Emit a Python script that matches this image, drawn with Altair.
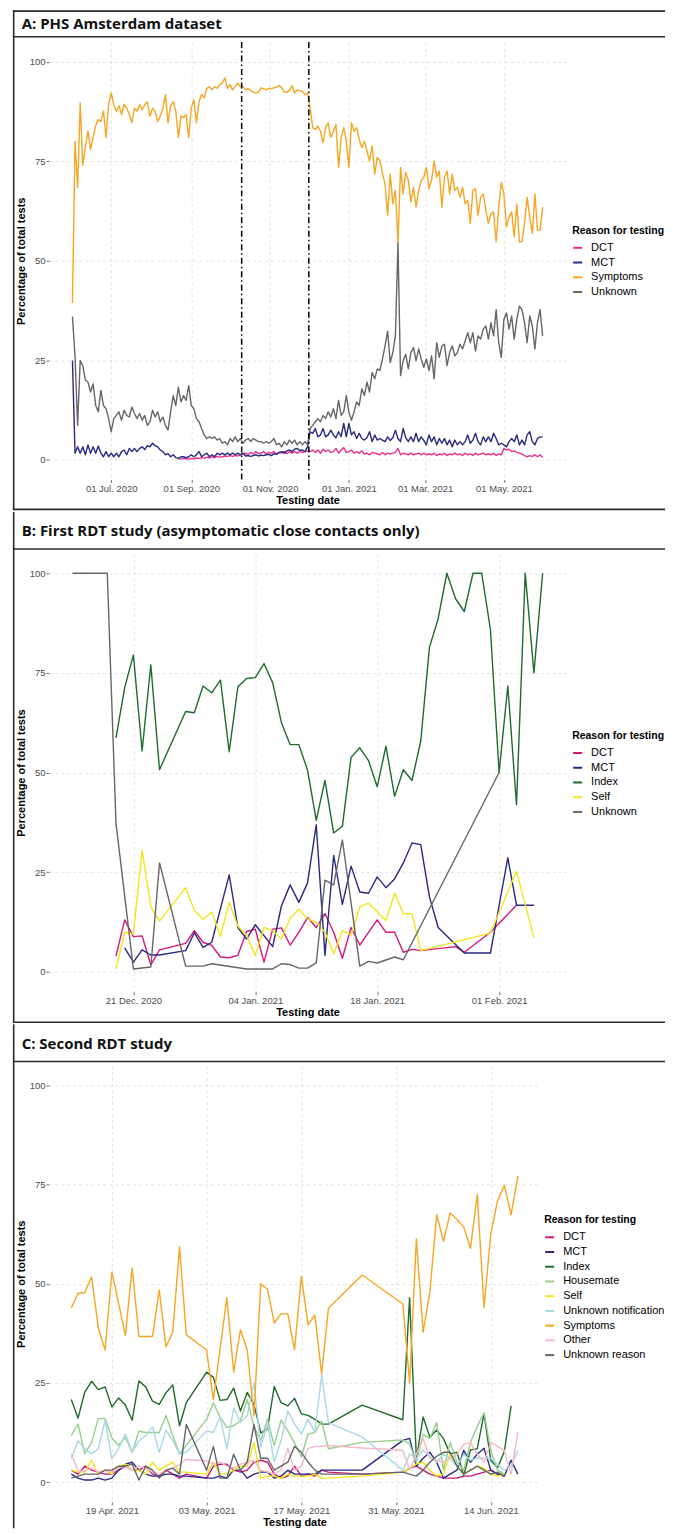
import altair as alt
import pandas as pd

FONT = "Liberation Sans"
HEAD_FONT = "Open Sans"
FRAME = "#2b2b2b"

# ---------------- Panel A: PHS Amsterdam (every 2nd day from 2020-06-01) ----------------
A_START = "2020-06-01"
A_STEP = 2
a_symptoms = [
    39.4, 80, 68.5, 89.7, 74, 78.5, 82.6, 78, 81, 84,
    85.5, 85, 87.6, 81, 89.3, 92.2, 89.3, 87.6, 89, 86.8,
    89.3, 88.4, 86.8, 84.7, 88.4, 87.6, 89.3, 88, 89.3, 90,
    86.4, 88.4, 87.6, 85, 86.4, 88.4, 91.8, 84.7, 89, 90,
    87.6, 81, 86.4, 86, 86.8, 81, 88.4, 90.5, 84.7, 90,
    91.8, 91, 93.4, 93.8, 93, 93.8, 93.4, 94.3, 94.7, 96,
    93.4, 94.3, 93, 93.8, 94.7, 93.8, 93.8, 93, 93.3, 92.8,
    92.4, 92.2, 92.4, 93.5, 93.3, 93, 93.4, 93.3, 93.5, 93.7,
    94.1, 93.5, 92.5, 92.4, 92.8, 94.1, 92.2, 93, 92.8, 92.6,
    91.8, 92.2, 88.4, 83.5, 83, 83.9, 82.6, 79.7, 83.5, 84.7,
    81, 82.6, 84.3, 73.5, 81, 83.5, 80, 73.5, 84.7, 82.6,
    83.5, 80.5, 78.5, 80.1, 77.6, 75.1, 78.9, 71.8, 76, 75.1,
    72, 69.3, 61.4, 71.8, 64.3, 67.7, 54.5, 73.5, 66.8, 72.2,
    70.2, 64.8, 68.5, 63.5, 67.7, 70.2, 71, 73.5, 68.1, 70.2,
    75.1, 71, 72.6, 63.5, 71, 72.6, 66.8, 71.8, 67.7, 68.5,
    66, 68.5, 64.3, 65.2, 59.4, 67.7, 68.1, 61.4, 66, 66.8,
    62.7, 59.4, 61.8, 62.3, 54.8, 63.5, 69.7, 66.8, 58.5, 61,
    62.3, 56, 64.3, 54.8, 54.8, 59.4, 66, 61, 56.9, 66.8,
    57.7, 57.7, 63.5,
]
a_unknown = [
    36, 26, 8.6, 24.9, 23.6, 20, 19.5, 17, 19, 13.6,
    12, 17.4, 13.6, 12.8, 10.3, 7, 10.3, 11.1, 12, 9.9,
    12.4, 11.1, 10.7, 13.2, 11.6, 10.3, 11.6, 9.9, 11.1, 8.6,
    9.5, 12.4, 10.7, 12, 9.5, 10.7, 8.6, 7.4, 12, 16.1,
    13.6, 18.2, 14.5, 16.1, 14.9, 18.6, 13.6, 12.8, 10.3, 9.5,
    7.8, 6.2, 5.3, 5.7, 5.3, 5.7, 4.9, 5.3, 4.1, 4.5,
    3.7, 5.3, 4.5, 5.7, 4.5, 5.3, 4.1, 4.9, 5.3, 4.5,
    5.3, 4.9, 4.5, 4.5, 4.1, 4.5, 4.1, 4.5, 5.3, 3.7,
    4.1, 3.2, 4.5, 3.7, 4.9, 4.1, 4.9, 3.7, 4.5, 3.7,
    4.5, 3.7, 7.8, 8.6, 9.5, 10.3, 9.5, 11.1, 10.3, 12,
    10.7, 12.8, 10.3, 14.9, 11.1, 12, 16.1, 12, 9.9, 12,
    14.5, 13.6, 17.8, 16.1, 19.5, 17, 21.9, 20.3, 22.8, 22.4,
    25.3, 28.6, 32.3, 24.4, 26.9, 31.1, 54.5, 21.1, 24.9, 26.5,
    22.8, 26.9, 28.2, 24.9, 27.8, 25.3, 23.2, 25.3, 22.4, 26.1,
    20.3, 29.4, 25.7, 28.6, 29, 23.6, 26.9, 28.6, 26.1, 26.9,
    29, 27.8, 29.8, 31.9, 29.4, 31.9, 27.3, 31.1, 30.3, 32.8,
    33.6, 30.3, 34.4, 31.1, 37.7, 29.4, 25.7, 35.2, 36.9, 32.8,
    36.1, 30.3, 35.2, 38.6, 37.7, 34.4, 29.4, 36.1, 33.6, 27.8,
    34.4, 37.7, 31.1,
]
a_mct = [
    24.9, 1.6, 3.2, 1.6, 3.2, 1.2, 3.7, 1.6, 3.2, 1.6,
    3.4, 1.6, 0.7, 2, 0.7, 1.6, 0.7, 1.6, 0.7, 2,
    2.4, 1.2, 2.8, 2, 2.8, 2, 2.8, 3.2, 2.5, 3.5,
    3.2, 4.1, 3.5, 3.2, 2.4, 2, 1.2, 1.5, 0.7, 1.2,
    0.5, 0.3, 0.7, 0.7, 0.5, 0.7, 1.2, 0.7, 1.2, 2,
    0.7, 1.2, 1.6, 0.7, 1.2, 0.7, 1.6, 1.2, 1.6, 1.2,
    1.6, 1.2, 1.6, 1.2, 1.6, 1.2, 1.6, 0.9, 1.0, 0.8,
    1.0, 1.2, 0.9, 1.1, 1.0, 1.2, 1.3, 1.0, 1.5, 1.3,
    1.8, 2.0, 1.6, 2.2, 2.4, 2.0, 2.6, 2.8, 2.3, 2.4,
    2.0, 3.2, 7, 6.6, 7.8, 5.7, 6.2, 7.8, 5.7, 6.2,
    7.4, 6.2, 5.5, 7, 5.8, 9.1, 5.7, 9.1, 6.2, 7,
    5.3, 6.6, 5.3, 4.9, 5.5, 7, 4.5, 6.2, 4.9, 5.3,
    4.9, 4.5, 5.7, 4.8, 5.5, 7.4, 5.3, 4.5, 7.8, 5.5,
    4.5, 5.7, 4.5, 6.6, 4.5, 5.7, 4.8, 3.7, 6.2, 4.5,
    5.7, 3.7, 5.3, 4.1, 5.3, 3.7, 4.9, 3.2, 4.9, 3.7,
    4.5, 3.7, 4.5, 6.2, 4.1, 4.9, 6.6, 4.5, 3.7, 5.7,
    4.5, 5.7, 4.5, 6.6, 5.3, 3.7, 4.1, 3.7, 3.2, 4.5,
    5.3, 4.5, 6.2, 3.7, 4.9, 3.7, 6.2, 7, 4.5, 3.7,
    5.3, 5.7, 5.7,
]
a_dct = [None] * 41 + [
    0.2, 0.1, 0.3, 0.2, 0.1, 0.3, 0.2, 0.4, 0.3, 0.5,
    0.3, 0.6, 0.4, 0.7, 0.5, 0.8, 0.6, 0.7, 0.9, 0.8,
    1.0, 0.8, 1.0, 0.9,
    1.2, 1.5, 1.6, 1.2, 1.8, 1.4, 2.0, 1.5, 1.6, 2.0,
    1.4, 1.8, 1.6, 2.0, 1.4, 1.8, 1.6, 2.0, 1.5, 1.9,
    1.6, 2.0, 1.6, 2.0, 1.8, 2.0, 2.2, 2.0, 2.4, 1.8,
    2.4, 1.6, 2.6, 2.0, 2.4, 1.8, 2.0, 2.8, 1.6, 2.4,
    3.0, 1.8, 2.0, 2.4, 1.6, 2.0, 1.6, 2.2, 1.4, 1.6,
    1.2, 1.8, 1.6, 1.4, 1.2, 1.8, 1.2, 1.6, 1.4, 1.6,
    1.8, 2.8, 1.2, 1.6, 1.4, 1.2, 1.6, 1.2, 1.4, 1.6,
    1.2, 1.6, 1.2, 1.4,
    1.2, 1.6, 1.0, 1.4, 1.2, 1.6, 1.0, 1.4, 1.2, 1.6,
    1.2, 1.4, 1.0, 1.6, 1.2, 1.4, 1.0, 1.6, 1.2, 1.4,
    1.6, 1.2, 1.4, 1.2, 1.6, 1.0, 1.4, 1.2, 2.8, 2.4,
    2.6, 2.0, 2.2, 1.8, 1.6, 1.4, 1.0, 0.7, 1.0, 0.8,
    1.2, 0.7, 1.2, 0.5,
]
A_ORDER = ["DCT", "MCT", "Symptoms", "Unknown"]
A_COLORS = ["#E8318A", "#272A80", "#F6A623", "#666666"]
A_VLINES = ["2020-10-10", "2020-12-01"]
A_TICKS = ["2020-07-01", "2020-09-01", "2020-11-01", "2021-01-01", "2021-03-01", "2021-05-01"]

# ---------------- Panel B: first RDT study (day offsets from 2020-12-21) ----------------
B_REF = "2020-12-21"
b_dct_days = [-2, -1, 0, 1, 2, 3, 6, 7, 8, 9, 10, 11, 12, 13, 14, 15, 16, 17, 18, 19, 20,
              21, 22, 23, 24, 25, 26, 27, 28, 29, 30, 31, 32, 33, 37, 38, 41, 44]
b_dct_vals = [3.9, 13, 8.8, 9, 1.7, 5.5, 7.1, 10.3, 7.4, 6.6, 3.7, 3.5, 4.1, 10.1, 10.7, 2.4,
              10.7, 11, 6.7, 9.9, 13.6, 11.1, 14.6, 9.9, 3.4, 11.1, 6.7, 9.9, 13, 9.9, 9.9,
              4.9, 5.6, 5.3, 6.3, 4.9, 9.9, 16.7]
b_mct_days = [-1, 0, 1, 2, 3, 6, 7, 8, 9, 11, 12, 13, 14, 16, 17, 18, 19, 20, 21, 22, 23,
              24, 25, 26, 27, 28, 29, 30, 31, 32, 33, 34, 35, 38, 41, 43, 44, 46]
b_mct_vals = [6, 2.4, 5.5, 4.2, 4.2, 5.3, 9.8, 6.1, 7.4, 24.3, 11.1, 8.2, 11.8, 6.3, 16.5,
              21.8, 17.4, 22.3, 36.9, 4.1, 29.2, 16.9, 26.5, 20, 19.7, 23.8, 21.1, 23.3, 27.3,
              32.3, 31.9, 18.8, 11.1, 4.7, 4.7, 28.6, 16.7, 16.7]
b_index_days = [-2, -1, 0, 1, 2, 3] + list(range(6, 48))
b_index_vals = [58.7, 71.3, 79.5, 55.4, 77, 50.7,
                65.3, 65, 71.7, 70, 73.2, 55.2, 71.5, 73.6, 73.8, 77.3,
                72.5, 62.5, 57, 57, 50.6, 38, 48, 34.8, 36.5, 53.8,
                56.2, 53, 46.4, 56.6, 44, 50.7, 48, 57.9, 81.4, 88.6,
                100, 93.6, 90.4, 100, 100, 86, 50, 71.7, 41.9, 100,
                75, 100]
b_self_days = [-2, -1, 0, 1, 2, 3] + list(range(6, 34)) + [41, 44, 46]
b_self_vals = [0.7, 9.9, 9.5, 30.5, 16.3, 12.7,
               21.1, 15.4, 13.1, 15, 8.9, 17.4, 11.5, 9.1, 4.1, 11.1,
               10.3, 8.2, 13.4, 15.7, 13.2, 12.4, 9.9, 4.5, 10.3, 9.2,
               16.3, 17.2, 15.1, 12.8, 19.7, 14.6, 14.5, 5.3,
               9.7, 25.2, 8.5]
b_unknown_days = [-7, -3, -2, 0, 2, 3, 6, 8, 9, 13, 16, 17, 18, 19, 20, 21, 22, 23, 24, 26,
                  27, 28, 30, 31, 42]
b_unknown_vals = [100, 100, 37.3, 0.7, 1.2, 27.3, 1.4, 1.4, 2, 0.7, 0.7, 2, 1.8, 0.9, 0.9,
                  2.2, 23, 21.8, 33.1, 1.4, 2.6, 2.2, 3.7, 3, 50]
B_ORDER = ["DCT", "MCT", "Index", "Self", "Unknown"]
B_COLORS = ["#D4177A", "#272A80", "#1E6B2A", "#F2E51C", "#666666"]
B_TICKS = ["2020-12-21", "2021-01-04", "2021-01-18", "2021-02-01"]

# ---------------- Panel C: second RDT study (day offsets from 2021-04-19) ----------------
C_REF = "2021-04-19"
C_OFFSETS = list(range(-6, 12)) + list(range(14, 33)) + [37] + list(range(43, 61))
N = None
c_vals = {
    "DCT": [3, 2, 4, 3, 2.5, 2, 2, 3, 4, 3, 3, 4, 2, 1.5, 3, 2, 1, 2,
            1, 4, 4.5, 4.5, 3, 2.5, 3, 5, 5.5, 5, 2, 1, 1.5, 4, 1.5, 2, 1.5, 3, 2.5,
            2,
            2.5, 3.5, 4, 3, 2, 1.5, 1, 1, 1, 1.5, 1.5, 2, 2.5, 3, 2, 1.5, N, N],
    "MCT": [2, 1, 0.5, 0.5, 1, 0.5, 1, 3, 4.5, 5, 3, 2, 1.5, 1.5, 2, 2, 1.5, 1.5,
            1, 1, 1.5, 1, 3, 3, 1, 2, 2.5, 2.5, 1, 1.5, 3, 2, 2, 2, 2, 3, 3,
            3,
            10.5, 11, 4, 6, 7.5, 5, 1, 2, 3, 8, 5, 7, 8.5, 3, 2, 1.5, 5.5, 2],
    "Index": [20.8, 16.1, 22.7, 25.4, 23.3, 24, 18.9, 21.2, 19.4, 15.6, 25.5, 24, 20.4, 19.6, 22.5, 24.5, 14.2, 20,
              27.7, 26.4, 20.6, 20.8, 23.7, 17.9, 22.6, 19.6, 12.4, 13.4, 24.1, 20, 19.2, 21.1, 17.2, 16.8, 15.8, 14.6, 14.6,
              19.4,
              15.7, 46.5, 5.9, 16.4, 11.3, 13.1, 11, 7.1, 7.5, 1.7, 8.1, 8.4, 17.2, 5.5, 3.6, 7.7, 19.2, N],
    "Housemate": [11.7, 14.6, 7.1, 10, 16, 16, 11.1, 9.2, 11.3, 7.4, 12.8, 12.5, 12.5, 12.5, 16.8, 11.7, 7.1, N,
                  15.8, 20, 16.3, 13.8, 14.2, 15.4, 20.8, 14, 10.4, 15.8, 9.2, 15.6, 12.9, 9.8, 6.3, 12.1, 12.5, 15.4, 8.4,
                  10,
                  10.6, 9.6, 5, 12, 11, 15, 3, 10, 5, 3, 10, 14, 17.5, 8, 3, 2, N, N],
    "Self": [3, 2.5, 2.5, 5.5, 2, 3, 2, 4, 4.5, 3, 3, 2, 5, 3, 4, 5, 2.5, 2.5,
             2, 5, 2, 2, 3, 4, 4, 10, 1, 1.5, 1.5, 1, 2, 1.5, 1.5, 1.5, 2, 1, 1,
             1.5,
             2.5, 3.5, 4.5, 5, 3, 1.5, 2, 7, 4, 2, 3, 4, 3.5, 2, 1.5, 2, N, N],
    "Unknown notification": [5.9, 10.4, 8.4, 7.1, 8.4, 15.6, 5.9, 8.4, 12.1, 7.5, 10.4, 11.7, 13.9, 7.5, 13.1, 10.4, 7.1, 7.5,
                             12.9, 12.5, 16.4, 8.4, 18.7, 15, 16.7, 25, 8.8, 14.6, 5.1, 10.4, 17.9, 14.6, 12.1, 15.8, 12.5, 26.9, 15,
                             11.3,
                             3, 7.1, 6, 8, 6.5, 5, 7, 6, 4, 7, 5.5, 6, 6, 6, 4.5, 3, 4, 8],
    "Symptoms": [43.8, 47.6, 47.8, 51.7, 38.8, 33.3, 52.9, 45, 37, 54, 36.7, 36.7, 36.7, 48.4, 34.1, 37.8, 59.3, 37.1,
                 33.3, 20.8, N, 46.5, 27.7, 38.4, 33.3, 16.7, 50, 48.6, 40.1, 42.4, 42.4, 33.4, 51.9, 39.6, 42.1, 27.2, 43.8,
                 52.2,
                 44.9, 25, 61.3, 37.8, 48, 67.4, 60.7, 67.8, 66.2, 64.3, 58.9, 72.5, 44, 62.6, 70.9, 74.8, 67.4, 77.2],
    "Other": [7.1, 2.8, 2.8, 3.5, 2.5, 3, 2.5, 3.5, 4, 3, 4, 3.5, 2.5, 2, 3, 3.5, 4.5, 5.7,
              5.3, 4.5, 5, 4, 3.5, 4.5, 5, 5.5, 3, 2.5, 2, 3, 8.5, 3, 4, 8.5, 9, 9, 9.2,
              8.6,
              8, 3, 7, 11, 6, 5.5, 5, 6, 7, 9.5, 10, 7, 5, 10, 9, 8, 2, 12.5],
    "Unknown reason": [1, 1.5, 2, 2, 2, 3, 3, 4, 4, 4.5, 0.5, 4, 3, 1, 3, 3.5, 2, 14.5,
                       3, 9, 1, 1, 7, 3, 5, 14.5, 6, 6, 3, 4, 5, 9, 7.5, 5, 3, 2, 2,
                       2,
                       2.5, 2, 1.5, 3, 5, 6.5, 7.5, 7.5, 4, 2, 3, 4, 3, 2, 2.5, 1.5, N, N],
}
C_ORDER = ["DCT", "MCT", "Index", "Housemate", "Self", "Unknown notification",
           "Symptoms", "Other", "Unknown reason"]
C_COLORS = ["#C9177A", "#272A80", "#1E6B2A", "#98CF8D", "#F2E51C", "#A9D8E6",
            "#F6A623", "#F6B8C5", "#666666"]
C_TICKS = ["2021-04-19", "2021-05-03", "2021-05-17", "2021-05-31", "2021-06-14"]


def ms(ts):
    return int(pd.Timestamp(ts).value // 1_000_000)


def rows_from(ref, offsets, values, name):
    base = pd.Timestamp(ref)
    out = []
    for o, v in zip(offsets, values):
        if v is None:
            continue
        out.append({"date": ms(base + pd.Timedelta(days=o)), "value": v, "reason": name})
    return out


a_offsets = list(range(0, 365, A_STEP))
df_a = pd.DataFrame(
    rows_from(A_START, a_offsets, a_dct, "DCT")
    + rows_from(A_START, a_offsets, a_mct, "MCT")
    + rows_from(A_START, a_offsets, a_symptoms, "Symptoms")
    + rows_from(A_START, a_offsets, a_unknown, "Unknown")
)
df_b = pd.DataFrame(
    rows_from(B_REF, b_dct_days, b_dct_vals, "DCT")
    + rows_from(B_REF, b_mct_days, b_mct_vals, "MCT")
    + rows_from(B_REF, b_index_days, b_index_vals, "Index")
    + rows_from(B_REF, b_self_days, b_self_vals, "Self")
    + rows_from(B_REF, b_unknown_days, b_unknown_vals, "Unknown")
)
c_rows = []
for nm in C_ORDER:
    c_rows += rows_from(C_REF, C_OFFSETS, c_vals[nm], nm)
df_c = pd.DataFrame(c_rows)


def decor(title, top, header_y, text_y, bottom, draw_top, draw_bottom):
    base = alt.Chart(pd.DataFrame({"k": [0]}))
    L, R = -35.3, 640
    st = dict(color=FRAME, strokeWidth=1.6, strokeCap="square")
    layers = [
        base.mark_rule(**st).encode(x=alt.value(L), y=alt.value(top), y2=alt.value(bottom)),
        base.mark_rule(**st).encode(x=alt.value(L), x2=alt.value(R), y=alt.value(header_y)),
        base.mark_text(align="left", baseline="alphabetic", font=HEAD_FONT, fontSize=15,
                       fontWeight="bold", color="#111111").encode(
            x=alt.value(L + 8), y=alt.value(text_y), text=alt.value(title)),
    ]
    if draw_top:
        layers.append(base.mark_rule(**st).encode(x=alt.value(L), x2=alt.value(R), y=alt.value(top)))
    if draw_bottom:
        layers.append(base.mark_rule(**st).encode(x=alt.value(L), x2=alt.value(R), y=alt.value(bottom)))
    return layers


def panel(df, order, colors, dom, ticks, width, height, lx, ly, title, top, header_y, text_y,
          bottom, draw_top, draw_bottom, vlines=None):
    x_enc = alt.X("date:T",
                  scale=alt.Scale(type="utc", domain=[ms(dom[0]), ms(dom[1])], nice=False),
                  axis=alt.Axis(values=[ms(t) for t in ticks], format="%d %b. %Y",
                                title="Testing date", labelOverlap=False, labelFlush=False,
                                titlePadding=1.5))
    y_enc = alt.Y("value:Q", scale=alt.Scale(domain=[-5, 105], nice=False, zero=False),
                  axis=alt.Axis(values=[0, 25, 50, 75, 100], format="d",
                                title="Percentage of total tests", titlePadding=3))
    color_enc = alt.Color(
        "reason:N", scale=alt.Scale(domain=order, range=colors),
        legend=alt.Legend(orient="none", legendX=lx, legendY=ly, title="Reason for testing",
                          titleFont=FONT, titleFontSize=10.5, titleFontWeight="bold",
                          titleColor="#000000", titlePadding=6, labelFont=FONT,
                          labelFontSize=11, labelColor="#000000", labelLimit=300,
                          symbolType="stroke", symbolSize=81, symbolStrokeWidth=2,
                          rowPadding=2.75, labelOffset=8, padding=0))
    layers = decor(title, top, header_y, text_y, bottom, draw_top, draw_bottom)
    for nm in order:
        sub = df[df["reason"] == nm]
        layers.append(alt.Chart(sub).mark_line(strokeWidth=1.4, strokeJoin="round").encode(
            x=x_enc, y=y_enc, color=color_enc))
    if vlines:
        vdf = pd.DataFrame({"date": [ms(v) for v in vlines]})
        layers.append(alt.Chart(vdf).mark_rule(color="#000000", strokeWidth=1.5,
                                               strokeDash=[6, 3, 1.5, 3]).encode(x=x_enc))
    return alt.layer(*layers).properties(width=width, height=height)


pA = panel(df_a, A_ORDER, A_COLORS,
           (pd.Timestamp("2020-06-01") - pd.Timedelta(days=18.2), pd.Timestamp("2021-05-31") + pd.Timedelta(days=18.2)),
           A_TICKS, 518, 438, 524, 184, "A: PHS Amsterdam dataset",
           top=-31, header_y=-5.3, text_y=-13, bottom=468, draw_top=True, draw_bottom=True,
           vlines=A_VLINES)
pB = panel(df_b, B_ORDER, B_COLORS,
           (pd.Timestamp("2020-12-14") - pd.Timedelta(days=2.7), pd.Timestamp("2021-02-06") + pd.Timedelta(days=2.7)),
           B_TICKS, 518, 439, 524, 178, "B: First RDT study (asymptomatic close contacts only)",
           top=-40.5, header_y=-4.4, text_y=-17.4, bottom=469.6, draw_top=False, draw_bottom=True)
pC = panel(df_c, C_ORDER, C_COLORS,
           (pd.Timestamp("2021-04-13") - pd.Timedelta(days=3.3), pd.Timestamp("2021-06-18") + pd.Timedelta(days=3.3)),
           C_TICKS, 492, 437, 496, 150, "C: Second RDT study",
           top=-40.5, header_y=-4.1, text_y=-16.4, bottom=462.5, draw_top=False, draw_bottom=False)

chart = alt.vconcat(pA, pB, pC, spacing=0).resolve_scale(
    x="independent", color="independent").resolve_legend(color="independent").properties(
    padding={"left": 4, "top": 0, "right": -25, "bottom": 0}
).configure(font=FONT).configure_view(stroke=None).configure_axis(
    labelFont=FONT, labelFontSize=9.5, labelColor="#4D4D4D", titleFont=FONT, titleFontSize=11,
    titleFontWeight="bold", titleColor="#000000", tickColor="#4D4D4D", tickSize=3, tickWidth=0.8,
    domain=False, gridColor="#D6D6D6", gridDash=[3, 3], gridWidth=0.7, labelPadding=1)

chart.save("out.html", embed_options={"renderer": "svg", "actions": False})
